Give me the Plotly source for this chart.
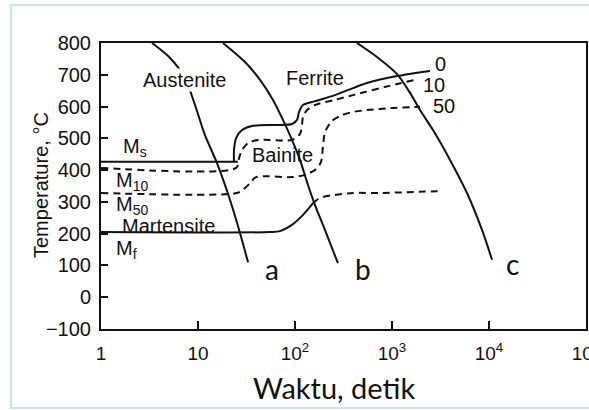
import plotly.graph_objects as go

# Cooling curves (time in s, temperature in °C)
curve_a_t = [3.36, 5.15, 7.34, 9.31, 11.8, 15.7, 21.4, 27.1, 32.8]
curve_a_T = [800, 753, 690, 605, 510, 422, 306, 202, 110]

curve_b_t = [18.1, 30.5, 43.6, 59.3, 75.2, 93.1, 112.6, 136, 160.8, 204, 277]
curve_b_T = [800, 740, 684, 621, 558, 495, 432, 353, 290, 211, 107]

curve_c_t = [435, 700, 1127, 1535, 1944, 2648, 3964, 5929, 8472, 10740]
curve_c_T = [800, 756, 702, 643, 589, 526, 432, 328, 212, 118]

# Martensite start line and 0 % transformation curve
ms_t = [1, 25.8]
ms_T = [426, 426]
start0_t = [23.5, 23.5, 24.7, 28.4, 36.0, 62.2, 93.1, 104.9, 110, 120.9, 160.8, 258, 396, 552, 1127, 2466]
start0_T = [426, 463, 501, 526, 539, 542, 545, 558, 583, 605, 617, 636, 658, 674, 696, 712]

# 10 % transformation curve (starting from M10)
p10_t = [1, 24.7, 26.5, 28.4, 32.8, 41.6, 93.1, 112.6, 118, 120.9, 133, 160.8, 258, 396, 1127, 1727]
p10_T = [407, 407, 438, 463, 485, 495, 495, 514, 542, 567, 589, 605, 621, 636, 671, 684]

# 50 % transformation curve (starting from M50)
p50_t = [1, 25.2, 29.8, 34.4, 39.6, 93.1, 127, 164.6, 185, 194, 204, 241, 305, 396, 552, 953, 1944]
p50_T = [328, 328, 341, 359, 378, 378, 385, 403, 425, 473, 520, 555, 573, 583, 589, 595, 599]

# Martensite finish line and lower bainite curve
mf_t = [1, 55.2, 70, 95.3, 120.9, 153.5]
mf_T = [205, 205, 208, 230, 259, 296]
lower_t = [153.5, 173, 190, 258, 396, 752, 3126]
lower_T = [296, 309, 315, 322, 328, 328, 334]

y_ticks = [-100, 0, 100, 200, 300, 400, 500, 600, 700, 800]
x_tickvals = [1, 10, 100, 1000, 10000, 100000]
x_ticktext = ["1", "10", "10<sup>2</sup>", "10<sup>3</sup>", "10<sup>4</sup>", "10<sup>5</sup>"]

BLACK = "#111111"
SOLID = dict(color=BLACK, width=2)
DASHED = dict(color=BLACK, width=2, dash="7px,5px")

fig = go.Figure()


def add_line(t, T, line, shape="spline"):
    fig.add_trace(go.Scatter(x=t, y=T, mode="lines", line=dict(**line, shape=shape, smoothing=0.8),
                             showlegend=False, hoverinfo="skip"))


add_line(curve_a_t, curve_a_T, SOLID)
add_line(curve_b_t, curve_b_T, SOLID)
add_line(curve_c_t, curve_c_T, SOLID)
add_line(ms_t, ms_T, SOLID, "linear")
add_line(start0_t, start0_T, SOLID)
add_line(p10_t, p10_T, DASHED)
add_line(p50_t, p50_T, DASHED)
add_line(mf_t, mf_T, SOLID)
add_line(lower_t, lower_T, DASHED)

SANS = "Liberation Sans, Arial, sans-serif"
LBL = dict(family=SANS, size=20, color=BLACK)
ABC = dict(family="Lato, sans-serif", size=28, color=BLACK)


def label(xlog, T, text, font=LBL, xanchor="center", bg=None):
    fig.add_annotation(x=xlog, y=T, xref="x", yref="y", text=text, showarrow=False,
                       font=font, xanchor=xanchor, yanchor="middle",
                       bgcolor=bg if bg else "rgba(0,0,0,0)", borderpad=0)


label(0.856, 684, "Austenite", bg="white")
label(2.206, 690, "Ferrite")
label(1.866, 448, "Bainite")
label(0.691, 224, "Martensite")
label(0.216, 470, "M<sub>s</sub>", xanchor="left")
label(0.144, 365, "M<sub>10</sub>", xanchor="left")
label(0.144, 290, "M<sub>50</sub>", xanchor="left")
label(0.144, 149, "M<sub>f</sub>", xanchor="left")
label(3.495, 733, "0")
label(3.433, 669, "10")
label(3.536, 602, "50")
label(1.763, 88, "a", font=ABC)
label(2.701, 90, "b", font=ABC)
label(4.247, 104, "c", font=ABC)

# Axis titles
fig.add_annotation(x=-0.124, y=0.503, xref="paper", yref="paper", text="Temperature, °C",
                   textangle=-90, showarrow=False, font=LBL, xanchor="center", yanchor="middle")
fig.add_annotation(x=0.480, y=-0.206, xref="paper", yref="paper", text="Waktu, detik",
                   showarrow=False, font=dict(family="Lato, sans-serif", size=29, color=BLACK),
                   xanchor="center", yanchor="middle")

# Light outer frame around the whole figure
fig.add_shape(type="rect", xref="paper", yref="paper", x0=-0.1856, x1=1.05, y0=-0.276, y1=1.133,
              line=dict(color="#cde2e2", width=2), layer="below")

fig.update_layout(
    width=589, height=410,
    margin=dict(l=101, r=3, t=43, b=81, autoexpand=False),
    paper_bgcolor="white", plot_bgcolor="white",
)
fig.update_xaxes(type="log", range=[0, 5], tickvals=x_tickvals, ticktext=x_ticktext,
                 ticks="inside", ticklen=8, tickwidth=2, tickcolor=BLACK,
                 showline=True, linecolor=BLACK, linewidth=2, mirror=True,
                 showgrid=False, zeroline=False, ticklabeloverflow="allow", automargin=False,
                 tickfont=dict(family=SANS, size=19, color=BLACK),
                 ticklabelstandoff=6)
fig.update_yaxes(range=[-100, 800], tickvals=y_ticks,
                 ticks="inside", ticklen=7, tickwidth=2, tickcolor=BLACK,
                 showline=True, linecolor=BLACK, linewidth=2, mirror=True,
                 showgrid=False, zeroline=False, automargin=False,
                 tickfont=dict(family=SANS, size=20, color=BLACK),
                 ticklabelstandoff=4)

fig.write_html("out.html")
